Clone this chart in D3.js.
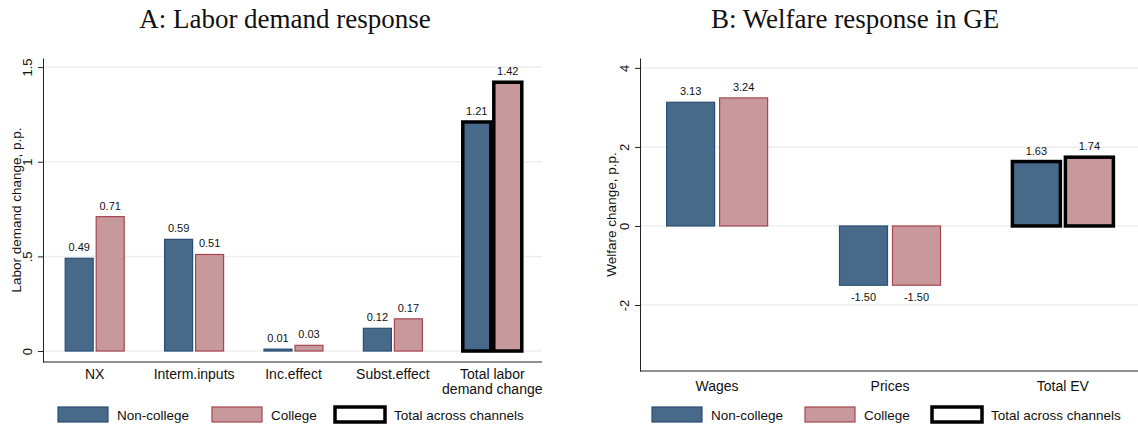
<!DOCTYPE html>
<html><head><meta charset="utf-8">
<script src="https://cdn.jsdelivr.net/npm/d3@7"></script>
<style>body{margin:0;background:#fff}svg{display:block}</style>
</head><body>
<svg id="c" width="1138" height="429"></svg>
<script>
// ---- data ----
const catsA = ["NX", "Interm.inputs", "Inc.effect", "Subst.effect", "Total labor\ndemand change"];
const nonCollegeA = [0.49, 0.59, 0.01, 0.12, 1.21];
const collegeA = [0.71, 0.51, 0.03, 0.17, 1.42];
const totalFlagA = [false, false, false, false, true];
const ticksA = [0, 0.5, 1, 1.5];
const tickLabelsA = ["0", ".5", "1", "1.5"];

const catsB = ["Wages", "Prices", "Total EV"];
const nonCollegeB = [3.13, -1.50, 1.63];
const collegeB = [3.24, -1.50, 1.74];
const totalFlagB = [false, false, true];
const ticksB = [-2, 0, 2, 4];
const tickLabelsB = ["-2", "0", "2", "4"];

const seriesNames = ["Non-college", "College", "Total across channels"];

const C = {ncFill:"#476a8b", ncStroke:"#2a4e72", cFill:"#c8999c", cStroke:"#a5464f"};
const sans = "'Liberation Sans', Arial, sans-serif";
const serif = "'Liberation Serif', 'DejaVu Serif', serif";

const svg = d3.select("#c");

function panel(o){
  const g = svg.append("g");
  const y = d3.scaleLinear().domain(o.yDomain).range([o.bottom, o.top]);
  const x = d3.scalePoint().domain(o.cats).range([o.left + o.xOff, o.right]).padding(o.pad);
  // gridlines
  g.selectAll("line.grid").data(o.ticks).join("line")
    .attr("x1", o.left).attr("x2", o.plotRight)
    .attr("y1", d=>y(d)).attr("y2", d=>y(d))
    .attr("stroke", "#eeeeee").attr("stroke-width", 1.5);
  // title
  g.append("text").attr("x", o.titleX).attr("y", 28).attr("text-anchor","middle")
    .attr("font-family", serif).attr("font-size", 27).attr("fill","#111").text(o.title);
  // y axis
  const ya = d3.axisLeft(y).tickValues(o.ticks).tickFormat((d,i)=>o.tickLabels[i]).tickSize(5).tickSizeOuter(0);
  const yg = g.append("g").attr("transform", `translate(${o.left},0)`).call(ya);
  yg.select(".domain").attr("stroke","#222");
  yg.selectAll(".tick line").attr("stroke","#222");
  yg.selectAll(".tick text").attr("font-family", sans).attr("font-size", 13).attr("fill","#111")
    .attr("transform", "rotate(-90)").attr("x", 0).attr("y", -11).attr("dy", 0).attr("text-anchor","middle");
  // x axis line
  g.append("line").attr("x1", o.left).attr("x2", o.plotRight).attr("y1", o.bottom).attr("y2", o.bottom)
    .attr("stroke","#222").attr("stroke-width",1.2);
  // y label
  g.append("text").attr("transform", `translate(${o.ylabX},${(o.top+o.bottom)/2}) rotate(-90)`)
    .attr("text-anchor","middle").attr("font-family", sans).attr("font-size", 13.5).attr("fill","#111").text(o.ylab);
  // bars
  const rows = o.cats.map((c,i)=>({c, nc:o.nc[i], co:o.co[i], tot:o.tot[i]}));
  const bw = o.bw, gap = o.gap;
  rows.forEach(r=>{
    const cx = x(r.c);
    [[r.nc, cx - gap/2 - bw, C.ncFill, C.ncStroke], [r.co, cx + gap/2, C.cFill, C.cStroke]].forEach(([v, x0, f, s])=>{
      const y0 = y(Math.max(0,v)), h = Math.abs(y(v)-y(0));
      g.append("rect").attr("x", x0).attr("y", y0).attr("width", bw).attr("height", Math.max(h, 0.5))
        .attr("fill", f).attr("stroke", r.tot ? "#000" : s).attr("stroke-width", r.tot ? 3.5 : 1.2);
      const ly = v >= 0 ? y(v) - 7 : y(v) + 16;
      g.append("text").attr("x", x0 + bw/2).attr("y", ly).attr("text-anchor","middle")
        .attr("font-family", sans).attr("font-size", 11).attr("fill","#111").text(v.toFixed(2));
    });
  });
  // x labels
  rows.forEach(r=>{
    const lines = r.c.split("\n");
    const t = g.append("text").attr("x", x(r.c)).attr("y", o.xlabY).attr("text-anchor","middle")
      .attr("font-family", sans).attr("font-size", 14).attr("fill","#111");
    lines.forEach((l,i)=> t.append("tspan").attr("x", x(r.c)).attr("dy", i===0?0:15).text(l));
  });
  // legend
  const L = o.legend;
  const sw = [[C.ncFill, C.ncStroke, 1.2], [C.cFill, C.cStroke, 1.2], ["#fff", "#000", 3.5]];
  seriesNames.forEach((n,i)=>{
    g.append("rect").attr("x", L[i]).attr("y", 407).attr("width", 50).attr("height", 15)
      .attr("fill", sw[i][0]).attr("stroke", sw[i][1]).attr("stroke-width", sw[i][2]);
    g.append("text").attr("x", L[i] + 59).attr("y", 420).attr("font-family", sans).attr("font-size", 13.5)
      .attr("fill","#111").text(n);
  });
}

panel({title:"A: Labor demand response", titleX:285, cats:catsA, nc:nonCollegeA, co:collegeA, tot:totalFlagA,
  ticks:ticksA, tickLabels:tickLabelsA, yDomain:[-0.058, 1.548], top:58, bottom:362, left:43, xOff:2, right:542, plotRight:542,
  pad:0.5, bw:28, gap:3, ylab:"Labor demand change, p.p.", ylabX:21, xlabY:379, legend:[58, 212, 335]});

panel({title:"B: Welfare response in GE", titleX:855, cats:catsB, nc:nonCollegeB, co:collegeB, tot:totalFlagB,
  ticks:ticksB, tickLabels:tickLabelsB, yDomain:[-3.67, 4.25], top:58, bottom:371, left:640, xOff:0, right:1140, plotRight:1138,
  pad:0.446, bw:48, gap:5, ylab:"Welfare change, p.p.", ylabX:616, xlabY:391, legend:[652, 805, 932]});
</script>
</body></html>
